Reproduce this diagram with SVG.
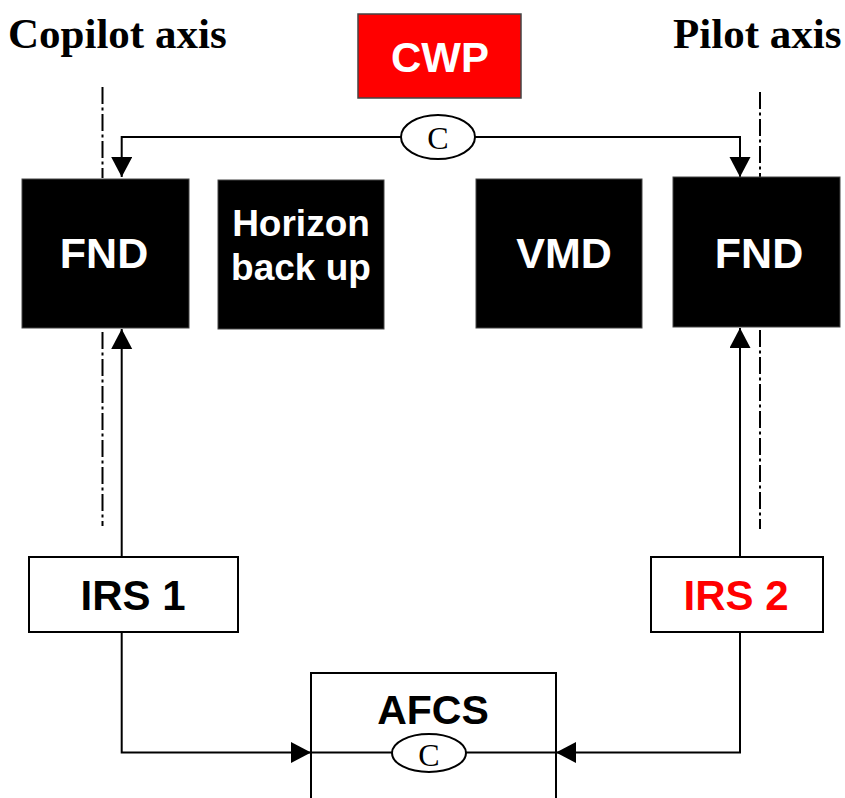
<svg xmlns="http://www.w3.org/2000/svg" width="845" height="798" viewBox="0 0 845 798">
  <defs>
    <marker id="arrow" markerUnits="userSpaceOnUse" markerWidth="21" markerHeight="22" refX="20" refY="10.5" orient="auto">
      <path d="M0,0 L20,10.5 L0,21 z" fill="#000"/>
    </marker>
    <style>
      .title { font-family: "Liberation Serif", "Times New Roman", serif; font-weight: bold; font-size: 43px; fill: #000; }
      .lbl { font-family: "Liberation Sans", Arial, sans-serif; font-weight: bold; text-anchor: middle; }
      .dark { fill: #000; stroke: #444; stroke-width: 1; }
      .dark-text { fill: #fff; font-size: 43px; }
      .light { fill: #fff; stroke: #000; stroke-width: 2; }
      .wire { fill: none; stroke: #000; stroke-width: 2; }
      .axis { fill: none; stroke: #000; stroke-width: 2; stroke-dasharray: 17 3.5 3 3.5; }
      .coupler { fill: #fff; stroke: #000; stroke-width: 2; }
      .coupler-text { font-family: "Liberation Serif", "Times New Roman", serif; font-size: 32px; text-anchor: middle; fill: #000; }
    </style>
  </defs>

  <!-- axis titles -->
  <text class="title" x="8" y="48">Copilot axis</text>
  <text class="title" x="673" y="48">Pilot axis</text>

  <!-- pilot axis centre lines -->
  <g id="axes">
    <line class="axis" x1="102.5" y1="87" x2="102.5" y2="178"/>
    <line class="axis" x1="102.5" y1="332" x2="102.5" y2="526"/>
    <line class="axis" x1="760" y1="92" x2="760" y2="178"/>
    <line class="axis" x1="760" y1="330" x2="760" y2="529"/>
  </g>

  <!-- connectors -->
  <g id="connectors">
    <path class="wire" d="M401,137 H121.7 V177" marker-end="url(#arrow)"/>
    <path class="wire" d="M475,137 H740 V177" marker-end="url(#arrow)"/>
    <path class="wire" d="M121.7,557 V329" marker-end="url(#arrow)"/>
    <path class="wire" d="M740,557 V328" marker-end="url(#arrow)"/>
    <path class="wire" d="M121.7,632 V752.5 H311" marker-end="url(#arrow)"/>
    <path class="wire" d="M740,632 V752.5 H556" marker-end="url(#arrow)"/>
  </g>

  <!-- CWP -->
  <g id="cwp">
    <rect x="358" y="14" width="163" height="84" fill="#ff0000" stroke="#444" stroke-width="1.5"/>
    <text class="lbl" x="440" y="72" font-size="42" fill="#fff">CWP</text>
  </g>

  <!-- top coupler -->
  <g id="coupler-top">
    <ellipse class="coupler" cx="438" cy="137" rx="37" ry="22"/>
    <text class="coupler-text" x="438" y="149">C</text>
  </g>

  <!-- displays -->
  <g id="fnd-left">
    <rect class="dark" x="22" y="179" width="167" height="149"/>
    <text class="lbl dark-text" x="104" y="268">FND</text>
  </g>
  <g id="horizon-backup">
    <rect class="dark" x="218" y="180" width="166" height="149"/>
    <text class="lbl dark-text" x="301" y="236" style="font-size:37px">Horizon</text>
    <text class="lbl dark-text" x="301" y="280" style="font-size:37px">back up</text>
  </g>
  <g id="vmd">
    <rect class="dark" x="476" y="179" width="166" height="149"/>
    <text class="lbl dark-text" x="564" y="268">VMD</text>
  </g>
  <g id="fnd-right">
    <rect class="dark" x="673" y="177" width="167" height="150"/>
    <text class="lbl dark-text" x="759" y="268">FND</text>
  </g>

  <!-- inertial reference systems -->
  <g id="irs1">
    <rect class="light" x="29" y="557" width="209" height="75"/>
    <text class="lbl" x="133" y="610" font-size="42" fill="#000">IRS 1</text>
  </g>
  <g id="irs2">
    <rect class="light" x="651" y="557" width="172" height="75"/>
    <text class="lbl" x="736" y="610" font-size="42" fill="#ff0000">IRS 2</text>
  </g>

  <!-- autopilot -->
  <g id="afcs">
    <rect class="light" x="311" y="673" width="245" height="140"/>
    <text class="lbl" x="433" y="724" font-size="41" fill="#000">AFCS</text>
    <line class="wire" x1="311" y1="752.5" x2="556" y2="752.5"/>
    <ellipse class="coupler" cx="429" cy="753" rx="37" ry="19"/>
    <text class="coupler-text" x="429" y="766">C</text>
  </g>
</svg>
